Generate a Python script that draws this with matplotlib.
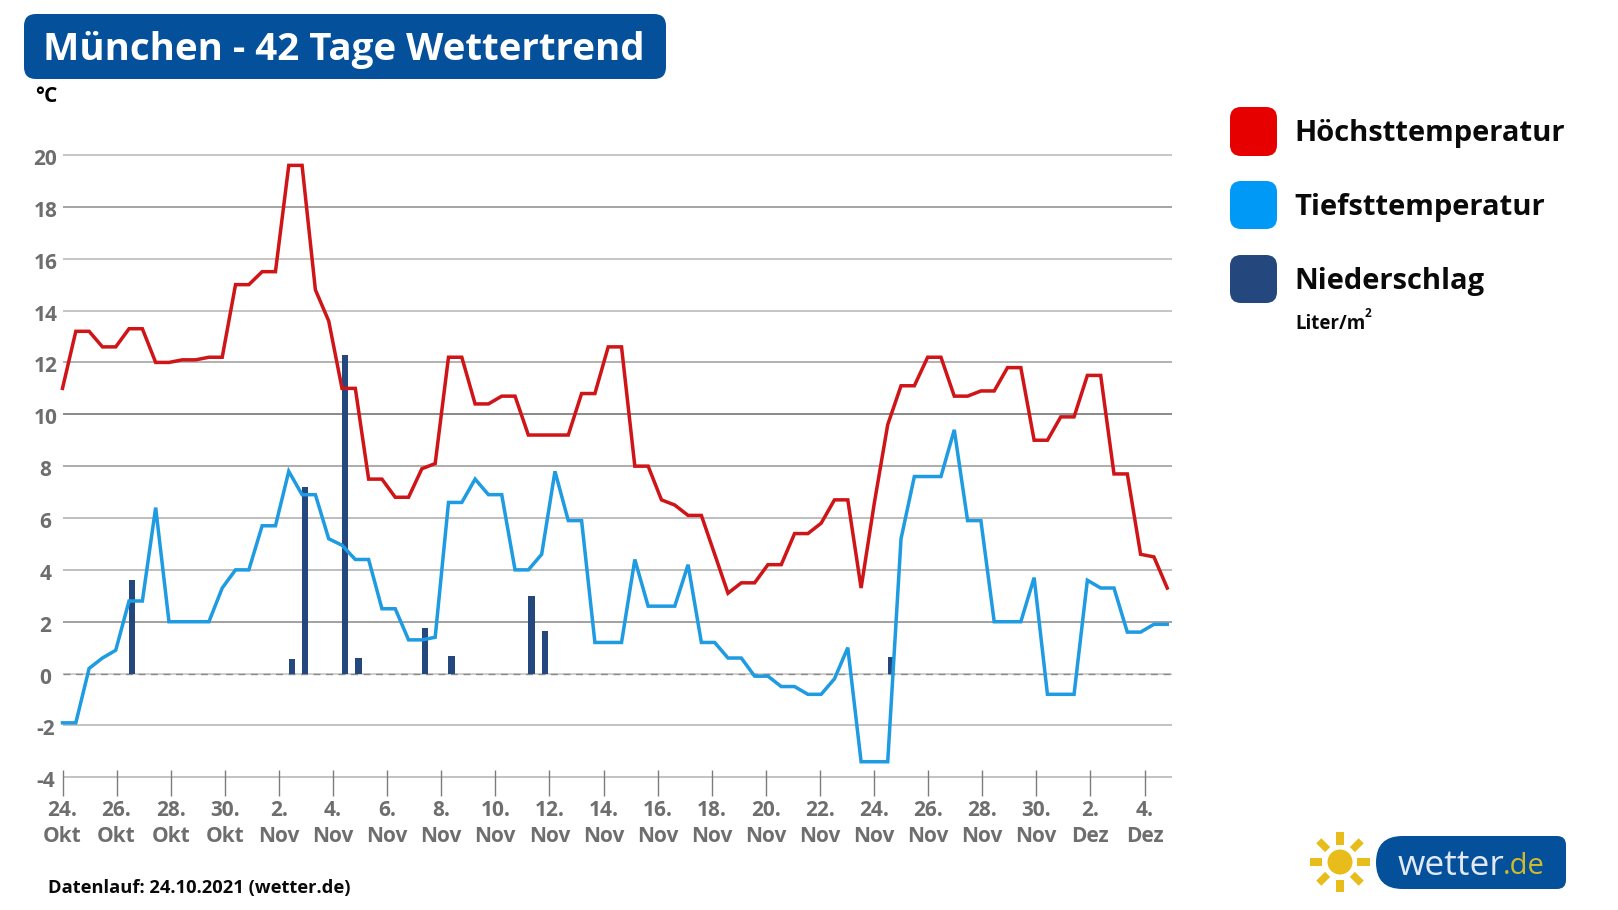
import numpy as np
import matplotlib
matplotlib.use("Agg")
import matplotlib.pyplot as plt
from matplotlib.patches import FancyBboxPatch, Circle, Rectangle
from matplotlib.transforms import ScaledTranslation, Affine2D

plt.rcParams['font.family'] = ['Open Sans', 'DejaVu Sans']

# ---- data ----
high_temp = [11.0, 13.2, 13.2, 12.6, 12.6, 13.3, 13.3, 12.0, 12.0, 12.1, 12.1, 12.2, 12.2, 15.0,
             15.0, 15.5, 15.5, 19.6, 19.6, 14.8, 13.6, 11.0, 11.0, 7.5, 7.5, 6.8, 6.8, 7.9,
             8.1, 12.2, 12.2, 10.4, 10.4, 10.7, 10.7, 9.2, 9.2, 9.2, 9.2, 10.8, 10.8, 12.6,
             12.6, 8.0, 8.0, 6.7, 6.5, 6.1, 6.1, 4.6, 3.1, 3.5, 3.5, 4.2, 4.2, 5.4,
             5.4, 5.8, 6.7, 6.7, 3.3, 6.6, 9.6, 11.1, 11.1, 12.2, 12.2, 10.7, 10.7, 10.9,
             10.9, 11.8, 11.8, 9.0, 9.0, 9.9, 9.9, 11.5, 11.5, 7.7, 7.7, 4.6, 4.5, 3.3]
low_temp = [-1.9, -1.9, 0.2, 0.6, 0.9, 2.8, 2.8, 6.4, 2.0, 2.0, 2.0, 2.0, 3.3, 4.0,
            4.0, 5.7, 5.7, 7.8, 6.9, 6.9, 5.2, 4.95, 4.4, 4.4, 2.5, 2.5, 1.3, 1.3,
            1.4, 6.6, 6.6, 7.5, 6.9, 6.9, 4.0, 4.0, 4.6, 7.8, 5.9, 5.9, 1.2, 1.2,
            1.2, 4.4, 2.6, 2.6, 2.6, 4.2, 1.2, 1.2, 0.6, 0.6, -0.1, -0.1, -0.5, -0.5,
            -0.8, -0.8, -0.2, 1.0, -3.4, -3.4, -3.4, 5.2, 7.6, 7.6, 7.6, 9.4, 5.9, 5.9,
            2.0, 2.0, 2.0, 3.7, -0.8, -0.8, -0.8, 3.6, 3.3, 3.3, 1.6, 1.6, 1.9, 1.9]
precip_index = [5, 17, 18, 21, 22, 27, 29, 35, 36, 62]
precip_values = [3.6, 0.55, 7.2, 12.3, 0.6, 1.75, 0.68, 3.0, 1.65, 0.65]
date_labels = ["24.\nOkt", "26.\nOkt", "28.\nOkt", "30.\nOkt", "2.\nNov", "4.\nNov", "6.\nNov",
               "8.\nNov", "10.\nNov", "12.\nNov", "14.\nNov", "16.\nNov", "18.\nNov", "20.\nNov",
               "22.\nNov", "24.\nNov", "26.\nNov", "28.\nNov", "30.\nNov", "2.\nDez", "4.\nDez"]
y_ticks = [-4, -2, 0, 2, 4, 6, 8, 10, 12, 14, 16, 18, 20]

# ---- styles ----
W, H, DPI = 1618, 910, 100
PX = 72 / DPI
RED, BLUE, NAVY = '#cf1518', '#1f9be2', '#24477e'
LEG_RED, LEG_BLUE = '#e60000', '#0099f5'
TITLE_BG = '#04509a'
GREY = '#6e6e6e'
SUN = '#e8bc1a'

fig = plt.figure(figsize=(W / DPI, H / DPI), dpi=DPI, facecolor='white')

# pixel canvas for decorations
bg = fig.add_axes([0, 0, 1, 1], zorder=0)
bg.set_xlim(0, W)
bg.set_ylim(H, 0)
bg.axis('off')


def rounded(x0, y0, x1, y1, r, color, ax=bg, z=1):
    ax.add_patch(FancyBboxPatch((x0 + r, y0 + r), x1 - x0 - 2 * r, y1 - y0 - 2 * r,
                                boxstyle=f"round,pad={r},rounding_size={r}",
                                fc=color, ec='none', zorder=z))


# ---- main chart ----
left_px, right_px = 62.5, 1172.0
y20_px, ym4_px = 155.0, 777.3
bottom_px = 796.0
unit_px = (ym4_px - y20_px) / 24
step_px = 13.31

ax = fig.add_axes([left_px / W, 1 - bottom_px / H, (right_px - left_px) / W, (bottom_px - y20_px + 3) / H],
                  zorder=2)
ax.patch.set_alpha(0)
ax.set_xlim(0, (right_px - left_px) / step_px)
ax.set_ylim(-4 - (bottom_px - ym4_px) / unit_px, 20 + 3 / unit_px)
for s in ax.spines.values():
    s.set_visible(False)

x = np.arange(len(high_temp))
shades = {-4: '#b4b4b4', -2: '#b4b4b4', 0: '#c4c4c4', 2: '#8c8c8c', 4: '#b0b0b0', 6: '#b0b0b0', 8: '#9a9a9a',
          10: '#707070', 12: '#a0a0a0', 14: '#b8b8b8', 16: '#b8b8b8', 18: '#909090', 20: '#b8b8b8'}
for v in y_ticks:
    ax.axhline(v, color=shades[v], lw=1.15, zorder=1)
ax.axhline(0, color='#8a8a8a', lw=1.0, ls=(0, (5, 4)), zorder=1.5)

ax.bar(precip_index, precip_values, width=0.47, align='edge', color=NAVY, zorder=2)
ax.plot(x, low_temp, color=BLUE, lw=3.5 * PX, solid_joinstyle='miter', zorder=3, clip_on=False)
ax.plot(x, high_temp, color=RED, lw=3.5 * PX, solid_joinstyle='miter', zorder=4, clip_on=False)

tick_step = 54.1 / step_px
ax.set_xticks([i * tick_step for i in range(len(date_labels))])
ax.set_xticklabels(date_labels, fontsize=15, fontweight='bold', color=GREY, linespacing=1.33)
ax.tick_params(axis='x', direction='in', length=26 * PX, width=1.0, color='#7c7c7c', pad=3)

ax.set_yticks(y_ticks)
ax.set_yticklabels([str(v) for v in y_ticks], fontsize=15, fontweight='bold', color=GREY)
ax.tick_params(axis='y', length=0, pad=17 * PX)
for lab in ax.get_yticklabels():
    lab.set_ha('center')
    lab.set_transform(lab.get_transform() + ScaledTranslation(0, -2 / DPI, fig.dpi_scale_trans))

# ---- title ----
rounded(24, 14, 666, 79, 12, TITLE_BG)
bg.text(43, 50, "München - 42 Tage Wettertrend", color='white', fontsize=27.7, fontweight='bold',
        va='center', ha='left', zorder=3)
bg.text(35, 96, "°C", color='black', fontsize=15, fontweight='bold', va='center', ha='left')

# ---- legend ----
for (y0, y1, col, name) in [(107, 156, LEG_RED, "Höchsttemperatur"),
                            (181, 229, LEG_BLUE, "Tiefsttemperatur"),
                            (255, 303, NAVY, "Niederschlag")]:
    rounded(1230, y0, 1277, y1, 11, col)
    bg.text(1294, (y0 + y1) / 2 + 2, name, color='#0a0a0a', fontsize=21, fontweight='bold',
            va='center', ha='left')
bg.text(1295, 329, "Liter/m", color='#0a0a0a', fontsize=13.5, fontweight='bold', va='baseline', ha='left')
bg.text(1365, 317, "2", color='#0a0a0a', fontsize=8.5, fontweight='bold', va='baseline', ha='left')

# ---- footer ----
bg.text(48, 888, "Datenlauf: 24.10.2021 (wetter.de)", color='#0a0a0a', fontsize=13.2, fontweight='bold',
        va='center', ha='left')

# ---- logo ----
cx, cy = 1340, 862
bg.add_patch(Circle((cx, cy), 12.5, fc=SUN, ec='none'))
for k in range(8):
    bg.add_patch(Rectangle((17.5, -3.6), 12.5, 7.2, fc=SUN, ec='none',
                           transform=Affine2D().rotate_deg(45 * k).translate(cx, cy) + bg.transData))
rounded(1376, 836, 1480, 889, 26.5, TITLE_BG)
rounded(1420, 836, 1566, 889, 9, TITLE_BG)
bg.text(1398, 866, "wetter", color='#e2e9f3', fontsize=25.5, fontweight='medium', va='center', ha='left', zorder=3)
bg.text(1503, 866, ".de", color='#cfbb2a', fontsize=21, fontweight='medium', va='center', ha='left', zorder=3)

fig.savefig('out.png', dpi=DPI, facecolor='white')
